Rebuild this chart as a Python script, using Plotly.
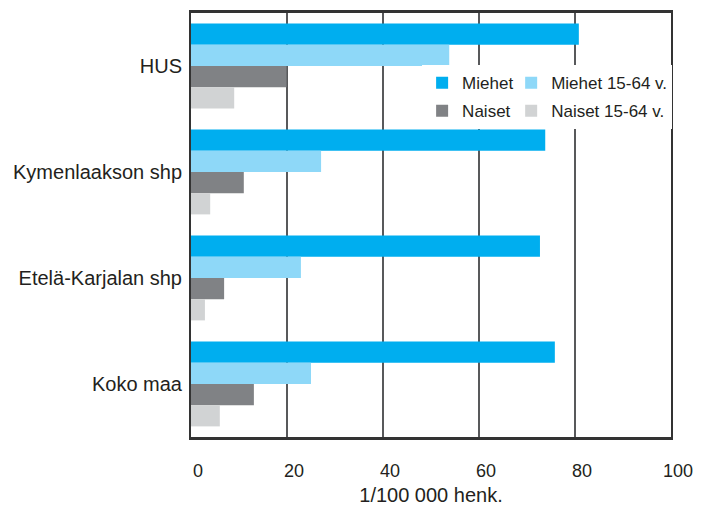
import plotly.graph_objects as go

categories = ["HUS", "Kymenlaakson shp", "Etelä-Karjalan shp", "Koko maa"]
series_names = ["Miehet", "Miehet 15-64 v.", "Naiset", "Naiset 15-64 v."]
miehet = [80.8, 73.8, 72.7, 75.8]
miehet_15_64 = [53.8, 27.1, 22.9, 25.0]
naiset = [19.9, 11.0, 6.9, 13.1]
naiset_15_64 = [9.0, 4.0, 2.9, 6.0]
x_ticks = [0, 20, 40, 60, 80, 100]
x_title = "1/100 000 henk."

colors = ["#00aeef", "#8ed8f8", "#808285", "#d1d3d4"]
values = [miehet, miehet_15_64, naiset, naiset_15_64]
# left legend column drawn last (legend2) so it sits on top of the right one
legend_ids = ["legend2", "legend", "legend2", "legend"]

FONT = "Liberation Sans, Arial, sans-serif"
TXT = "#231f20"

fig = go.Figure()
for name, vals, col, lg in zip(series_names, values, colors, legend_ids):
    fig.add_trace(go.Bar(
        y=categories, x=vals, name=name, orientation="h",
        marker=dict(color=col, line=dict(width=0)),
        legend=lg, legendgroup=name,
    ))

legend_common = dict(
    bgcolor="white", borderwidth=0, orientation="v",
    font=dict(family=FONT, size=17, color=TXT),
    yanchor="top", xanchor="left", tracegroupgap=3,
    traceorder="grouped", itemwidth=30,
)

# the page body has an 8px margin, so the figure is sized to fit inside it
fig.update_layout(
    width=695, height=498,
    margin=dict(l=183, r=32, t=5, b=69, autoexpand=False),
    paper_bgcolor="white", plot_bgcolor="white",
    barmode="group", bargap=0.2, bargroupgap=0,
    font=dict(family=FONT, size=19, color=TXT),
    legend2=dict(x=0.4815, y=0.877, **legend_common),
    legend=dict(x=0.667, y=0.877, **legend_common),
    xaxis=dict(
        range=[0, 100], tickvals=x_ticks, ticktext=[str(t) for t in x_ticks],
        showgrid=True, gridcolor="#58595b", gridwidth=2, zeroline=False,
        showline=True, mirror=True, linecolor="#333333", linewidth=2.5,
        ticks="", ticklabelstandoff=16, ticklabelshift=7, automargin=False,
        tickfont=dict(family=FONT, size=18, color=TXT),
        title=dict(text=x_title, font=dict(family=FONT, size=20, color=TXT), standoff=14),
    ),
    yaxis=dict(
        autorange="reversed", showgrid=False, zeroline=False,
        showline=True, mirror=True, linecolor="#333333", linewidth=2,
        ticks="", ticklabelstandoff=3, automargin=False,
        tickfont=dict(family=FONT, size=20, color=TXT),
    ),
)

fig.write_html("out.html")
